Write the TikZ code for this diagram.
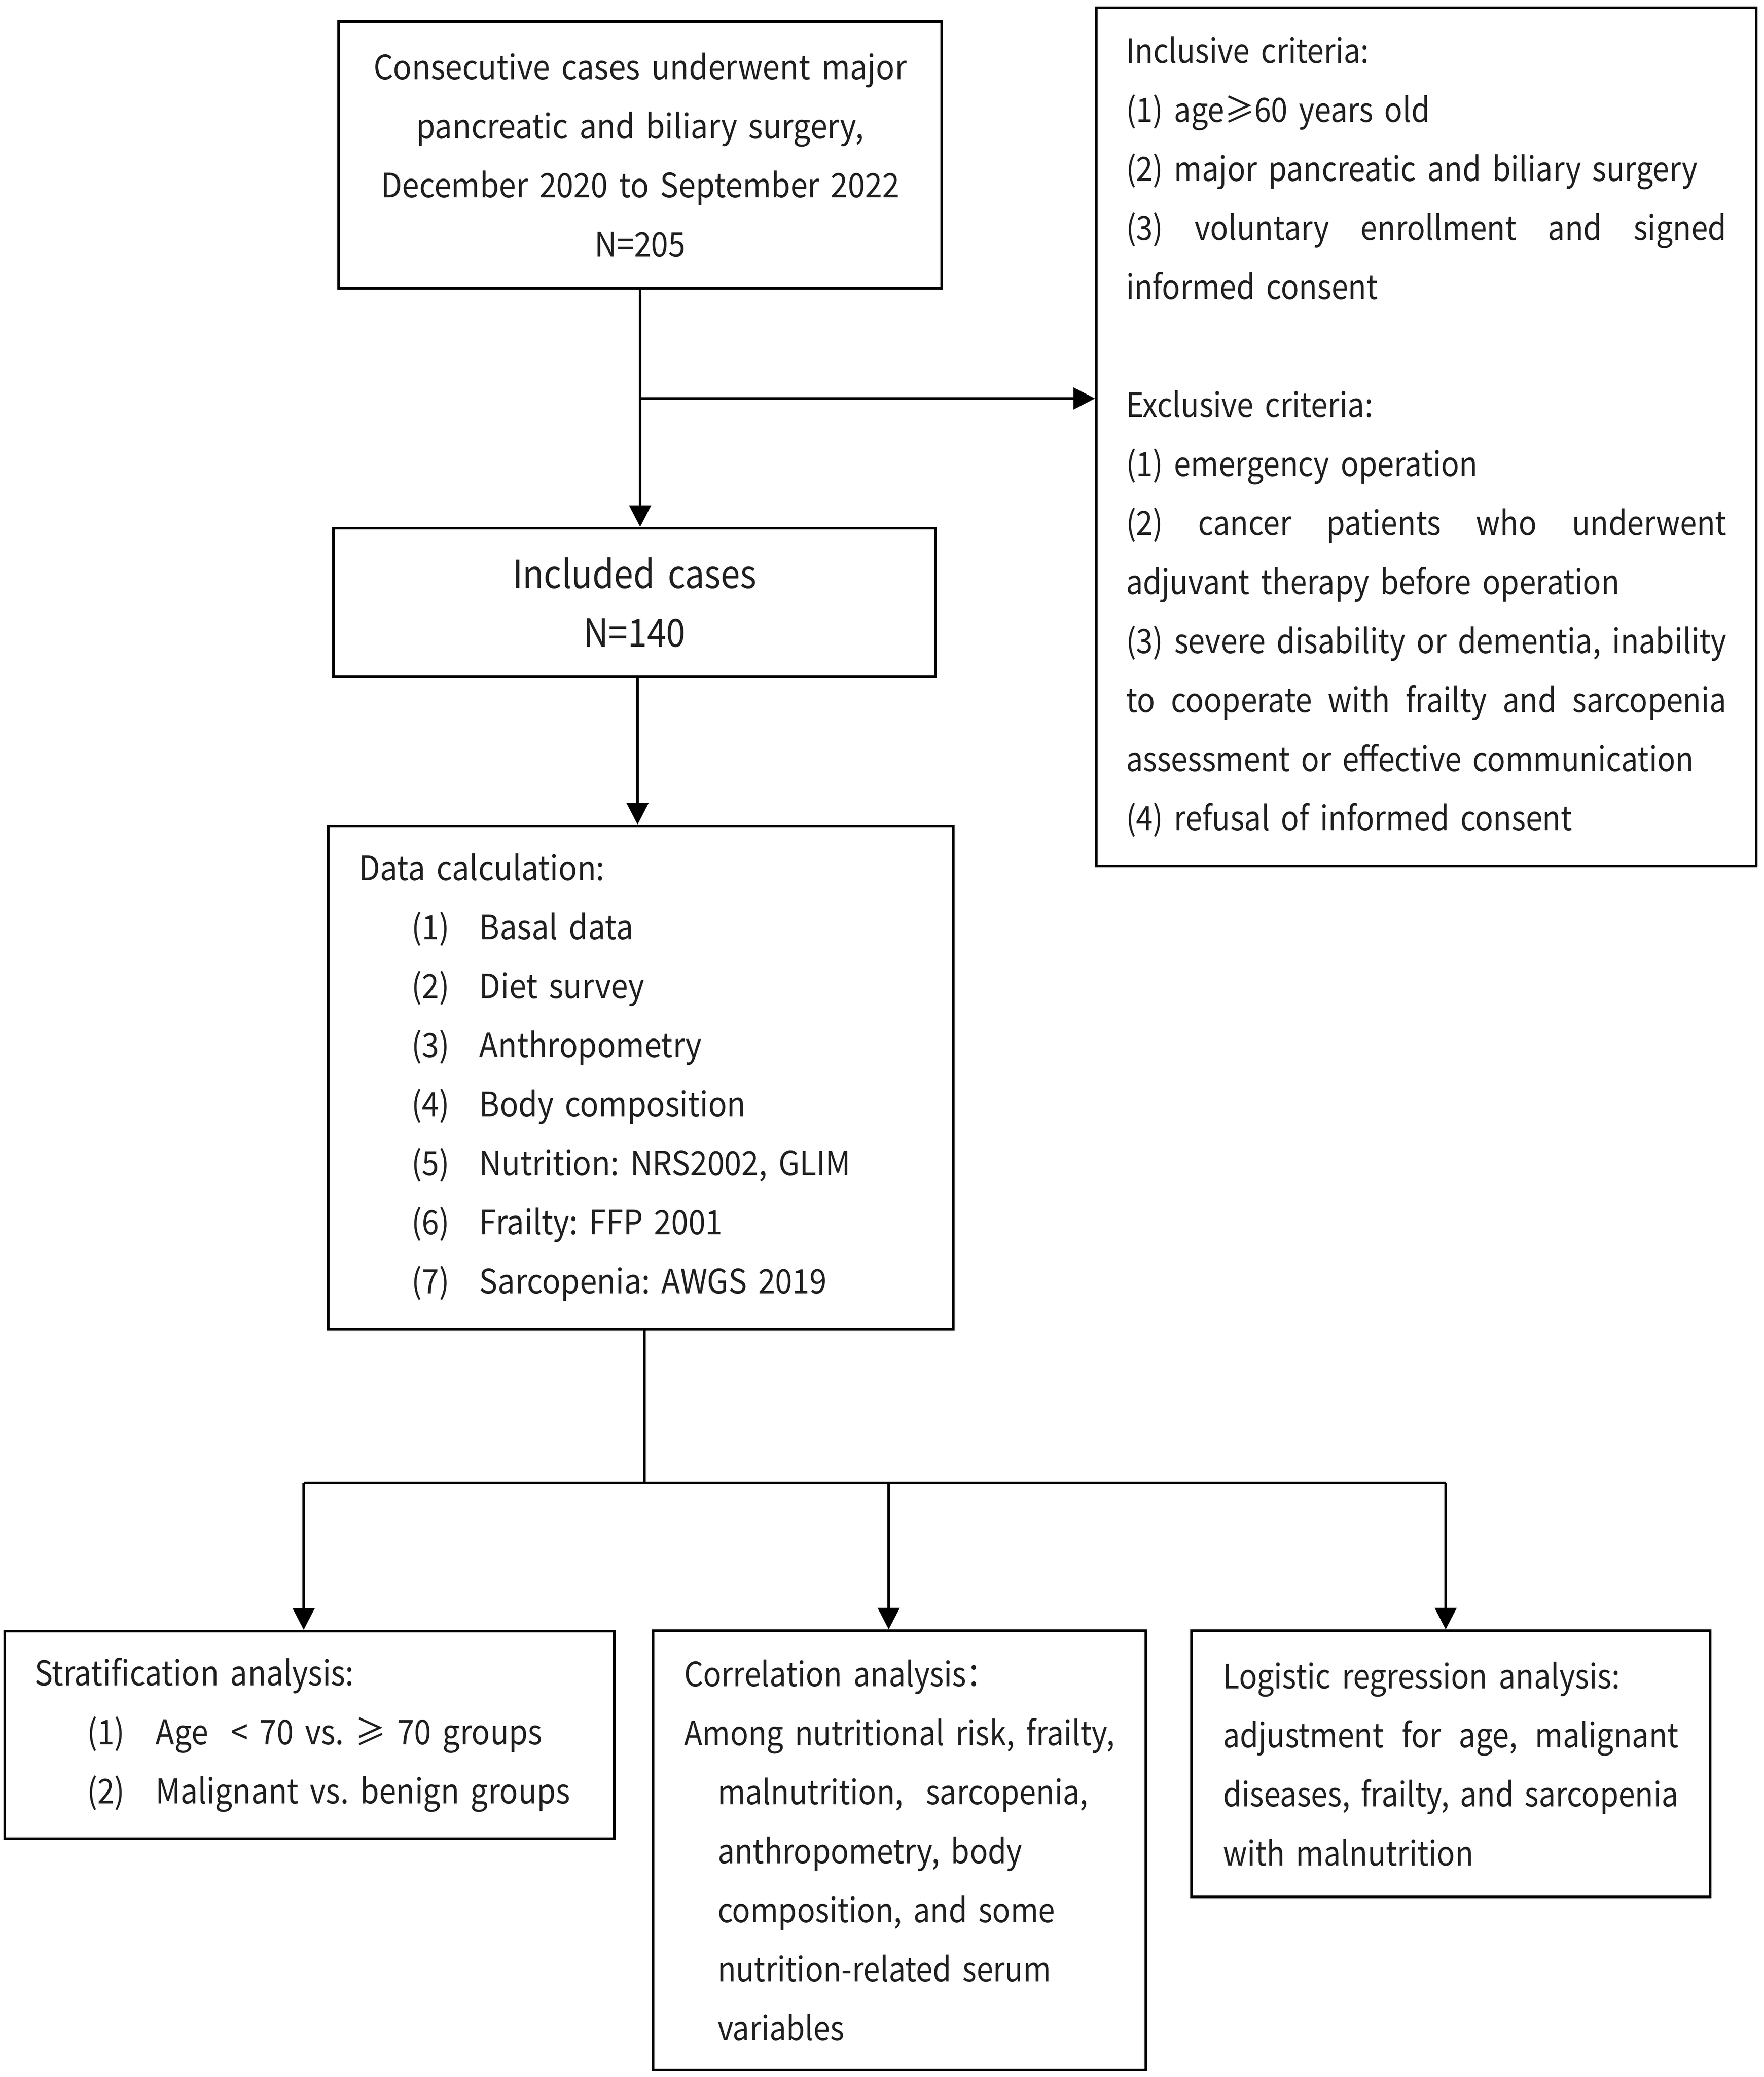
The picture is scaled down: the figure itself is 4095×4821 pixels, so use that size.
\documentclass[tikz,border=0pt]{standalone}
\usepackage{fontspec}
\setmainfont{Noto Sans CJK SC}[FakeStretch=0.92]
\newfontfamily\narrowfont{Noto Sans CJK SC}[FakeStretch=0.895]
\usetikzlibrary{arrows.meta}
\frenchspacing
\hyphenpenalty=10000
\exhyphenpenalty=10000
\newcommand{\jline}[2]{\leavevmode\hbox to #1{#2}}
\begin{document}
\begin{tikzpicture}[x=1pt,y=-1pt,
  box/.style={draw=black, line width=6pt, inner sep=0pt, text=black!88, font=\fontsize{78}{137}\selectfont},
  nbox/.style={box, font=\narrowfont\fontsize{78}{137}\selectfont},
  arr/.style={line width=6pt, -{Triangle[length=50pt,width=50pt]}},
  ln/.style={line width=6pt}]
\useasboundingbox (0,0) rectangle (4095,4821);
\fill[white] (0,0) rectangle (4095,4821);

\node[box, minimum width=1400pt, minimum height=619pt, text width=1330pt, align=center] (top) at (1486,359.5)
  {\mbox{Consecutive cases underwent major}\\\mbox{pancreatic and biliary surgery,}\\\mbox{December 2020 to September 2022}\\N=205};

\node[box, minimum width=1398pt, minimum height=345pt, text width=1300pt, align=center,
  font=\narrowfont\fontsize{90}{136}\selectfont] (inc) at (1473,1398.5)
  {Included cases\\N=140};

\node[nbox, minimum width=1532pt, minimum height=1992pt, text width=1394pt, align=left] (crit) at (3311,1014)
  {Inclusive criteria:\\
   (1) age≥60 years old\\
   \mbox{(2) major pancreatic and biliary surgery}\\
   \jline{1394pt}{(3)\hfill voluntary\hfill enrollment\hfill and\hfill signed}\\
   informed consent\\
   \mbox{}\\
   Exclusive criteria:\\
   (1) emergency operation\\
   \jline{1394pt}{(2)\hfill cancer\hfill patients\hfill who\hfill underwent}\\
   \mbox{adjuvant therapy before operation}\\
   \jline{1394pt}{(3)\hfill severe\hfill disability\hfill or\hfill dementia,\hfill inability}\\
   \jline{1394pt}{to\hfill cooperate\hfill with\hfill frailty\hfill and\hfill sarcopenia}\\
   \mbox{assessment or effective communication}\\
   \mbox{(4) refusal of informed consent}};

\node[box, minimum width=1451pt, minimum height=1168pt, text width=1309pt, align=left] (data) at (1487.5,2501)
  {Data calculation:\\
   \hspace*{122pt}\makebox[158pt][l]{(1)}Basal data\\
   \hspace*{122pt}\makebox[158pt][l]{(2)}Diet survey\\
   \hspace*{122pt}\makebox[158pt][l]{(3)}Anthropometry\\
   \hspace*{122pt}\makebox[158pt][l]{(4)}Body composition\\
   \hspace*{122pt}\makebox[158pt][l]{(5)}Nutrition: NRS2002, GLIM\\
   \hspace*{122pt}\makebox[158pt][l]{(6)}Frailty: FFP 2001\\
   \hspace*{122pt}\makebox[158pt][l]{(7)}Sarcopenia: AWGS 2019};

\node[nbox, minimum width=1415pt, minimum height=482pt, text width=1277pt, align=left,
  font=\narrowfont\fontsize{79.5}{137}\selectfont] (b1) at (718.5,4027)
  {Stratification analysis:\\
   \hspace*{122pt}\makebox[160pt][l]{(1)}\mbox{Age~~<~70 vs. ≥ 70 groups}\\
   \hspace*{122pt}\makebox[160pt][l]{(2)}\mbox{Malignant vs. benign groups}};

\node[nbox, minimum width=1144pt, minimum height=1020pt, text width=1000pt, align=left] (b2) at (2088,4295)
  {Correlation analysis：\\
   \mbox{Among nutritional risk, frailty,}\\
   \hspace*{78pt}\mbox{malnutrition,~ sarcopenia,}\\
   \hspace*{78pt}\mbox{anthropometry, body}\\
   \hspace*{78pt}\mbox{composition, and some}\\
   \hspace*{78pt}\mbox{nutrition-related serum}\\
   \hspace*{78pt}variables};

\node[nbox, minimum width=1204pt, minimum height=618pt, text width=1058pt, align=left] (b3) at (3368,4094)
  {\mbox{Logistic regression analysis:}\\
   \jline{1058pt}{adjustment\hfill for\hfill age,\hfill malignant}\\
   \jline{1058pt}{diseases,\hfill frailty,\hfill and\hfill sarcopenia}\\
   with malnutrition};

% connectors
\coordinate (br) at (1486,925);
\draw[arr] (top.south) -- (top.south |- inc.north);
\draw[arr] (br) -- (br -| crit.west);
\draw[arr] ([xshift=7pt]inc.south) -- ([xshift=7pt]inc.south |- data.north);

\coordinate (sp) at (1496,3442);
\coordinate (j1) at (705,3442);
\coordinate (j2) at (2063,3442);
\coordinate (j3) at (3356,3442);
\draw[ln] (data.south -| sp) -- (sp);
\draw[ln] (j1) -- (j3);
\draw[arr] (j1) -- (j1 |- b1.north);
\draw[arr] (j2) -- (j2 |- b2.north);
\draw[arr] (j3) -- (j3 |- b3.north);
\end{tikzpicture}
\end{document}
